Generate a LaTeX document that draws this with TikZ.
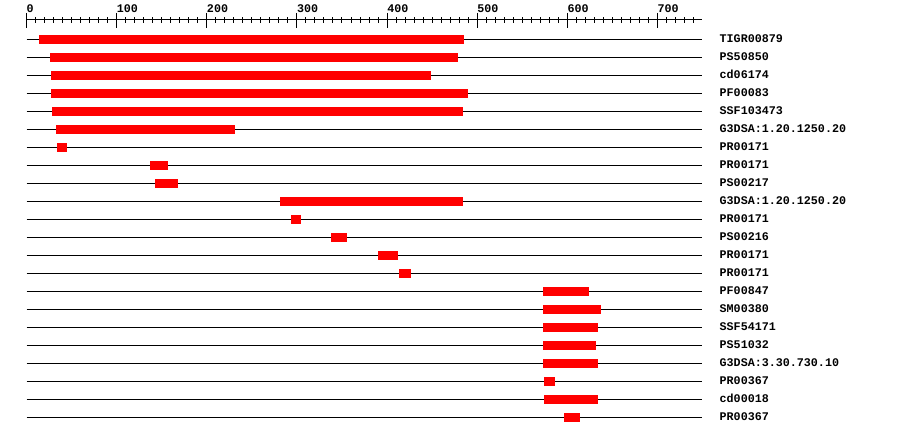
\documentclass[tikz,border=0pt]{standalone}
\usepackage{fontspec}
\newfontfamily\lmono{Liberation Mono}
\begin{document}
\begin{tikzpicture}[x=1pt,y=-1pt,
  rowline/.style={draw=black,line width=1pt},
  hitbar/.style={fill=red},
  ticklab/.style={anchor=base west,inner sep=0pt,font=\lmono\bfseries\fontsize{11.7}{12}\selectfont},
  rowlab/.style={anchor=base west,inner sep=0pt,font=\lmono\bfseries\fontsize{11.7}{12}\selectfont}]
\useasboundingbox (0,0) rectangle (900,436);
% axis
\coordinate (axL) at (26.5,20);
\coordinate (axR) at (701.7,20);
\draw[rowline] (axL) -- (axR);
\foreach \u in {0,100,...,700}{
  \draw[line width=1pt] ({26.5+0.9014*\u},13) -- ({26.5+0.9014*\u},28.3);
  \node[ticklab] (t\u) at ({26.5+0.9014*\u},12.3) {\u};
}
\foreach \u in {10,20,...,740}{
  \draw[line width=1pt] ({26.5+0.9014*\u},17.3) -- ({26.5+0.9014*\u},23.3);
}
% rows
\foreach \i/\a/\b/\t in {
  1/39/464/TIGR00879,
  2/50/458/PS50850,
  3/51/431/cd06174,
  4/51/468/PF00083,
  5/52/463/SSF103473,
  6/56/235/G3DSA:1.20.1250.20,
  7/57/67/PR00171,
  8/150/168/PR00171,
  9/155/178/PS00217,
  10/280/463/G3DSA:1.20.1250.20,
  11/291/301/PR00171,
  12/331/347/PS00216,
  13/378/398/PR00171,
  14/399/411/PR00171,
  15/543/589/PF00847,
  16/543/601/SM00380,
  17/543/598/SSF54171,
  18/543/596/PS51032,
  19/543/598/G3DSA:3.30.730.10,
  20/544/555/PR00367,
  21/544/598/cd00018,
  22/564/580/PR00367}{
  \pgfmathsetmacro\yy{39.5+18*(\i-1)}
  \coordinate (s\i) at (26.5,\yy);
  \coordinate (e\i) at (701.7,\yy);
  \draw[rowline] (s\i) -- (e\i);
  \fill[hitbar] (\a,\yy-4.5) rectangle (\b,\yy+4.5);
  \node[rowlab] (l\i) at (719.5,\yy+3.2) {\t};
}
\end{tikzpicture}
\end{document}
